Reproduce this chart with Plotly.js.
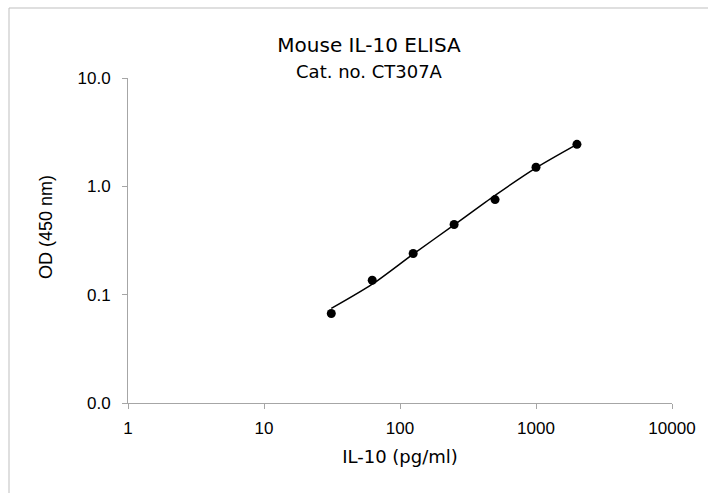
<!DOCTYPE html>
<html>
<head>
<meta charset="utf-8">
<script src="https://cdn.plot.ly/plotly-3.0.1.min.js"></script>
<style>html,body{margin:0;padding:0;background:#fff;}#chart{width:708px;height:493px;}</style>
</head>
<body>
<div id="chart"></div>
<script>
// Standard concentrations (pg/ml)
var concentrations = [31.25, 62.5, 125, 250, 500, 1000, 2000];
// Measured OD at 450 nm
var odValues = [0.067, 0.136, 0.240, 0.444, 0.754, 1.50, 2.44];
// Fitted curve values at the same concentrations
var fitValues = [0.0746, 0.125, 0.237, 0.440, 0.825, 1.48, 2.44];
// Axis ticks
var xTickVals = [1, 10, 100, 1000, 10000];
var xTickText = ["1", "10", "100", "1000", "10000"];
var yTickVals = [0.01, 0.1, 1, 10];
var yTickText = ["0.0", "0.1", "1.0", "10.0"];

var W = 708, H = 493;
var L = 128, R = 672, T = 78, B = 403;
function px(x){ return (x - L) / (R - L); }
function py(y){ return (B - y) / (B - T); }

var tickFont = {family: "Liberation Sans, Arial, sans-serif", size: 17, color: "#000"};
var titleFontFamily = "DejaVu Sans, sans-serif";

var traces = [
  {
    x: concentrations, y: fitValues, type: "scatter", mode: "lines",
    line: {color: "#000", width: 1.5, shape: "spline", smoothing: 0.8},
    hoverinfo: "skip", showlegend: false
  },
  {
    x: concentrations, y: odValues, type: "scatter", mode: "markers",
    marker: {color: "#000", size: 9},
    showlegend: false
  }
];

var layout = {
  width: W, height: H,
  margin: {l: L, r: W - R, t: T, b: H - B, pad: 0},
  paper_bgcolor: "#fff", plot_bgcolor: "#fff",
  showlegend: false,
  title: {
    text: "Mouse IL-10 ELISA<br><span style='font-size:18px'>Cat. no. CT307A</span>",
    font: {family: titleFontFamily, size: 20, color: "#000"},
    xref: "container", x: 369 / W, xanchor: "center",
    yref: "container", y: 1 - 52 / H, yanchor: "top"
  },
  xaxis: {
    type: "log", range: [0, 4],
    tickvals: xTickVals, ticktext: xTickText,
    showgrid: false, zeroline: false,
    showline: true, linecolor: "#a6a6a6", linewidth: 1,
    ticks: "outside", ticklen: 5, tickcolor: "#a6a6a6", tickwidth: 1,
    ticklabelstandoff: 5,
    tickfont: tickFont,
    title: {text: "IL-10 (pg/ml)", font: {family: titleFontFamily, size: 18, color: "#000"}, standoff: 12},
    fixedrange: true
  },
  yaxis: {
    type: "log", range: [-2, 1],
    tickvals: yTickVals, ticktext: yTickText,
    showgrid: false, zeroline: false,
    showline: true, linecolor: "#a6a6a6", linewidth: 1,
    ticks: "outside", ticklen: 5, tickcolor: "#a6a6a6", tickwidth: 1,
    ticklabelstandoff: 8,
    tickfont: tickFont,
    fixedrange: true
  },
  annotations: [
    {
      text: "OD (450 nm)", textangle: -90,
      xref: "paper", yref: "paper",
      x: px(45.5), y: py(227.5), xanchor: "center", yanchor: "middle",
      showarrow: false,
      font: {family: "Liberation Sans, Arial, sans-serif", size: 18, color: "#000"}
    }
  ],
  shapes: [
    {
      type: "rect", xref: "paper", yref: "paper", layer: "below",
      x0: px(9), x1: px(730), y0: py(520), y1: py(8),
      line: {color: "#bfbfbf", width: 1}, fillcolor: "rgba(0,0,0,0)"
    }
  ]
};

Plotly.newPlot("chart", traces, layout, {displayModeBar: false, staticPlot: true});
</script>
</body>
</html>
